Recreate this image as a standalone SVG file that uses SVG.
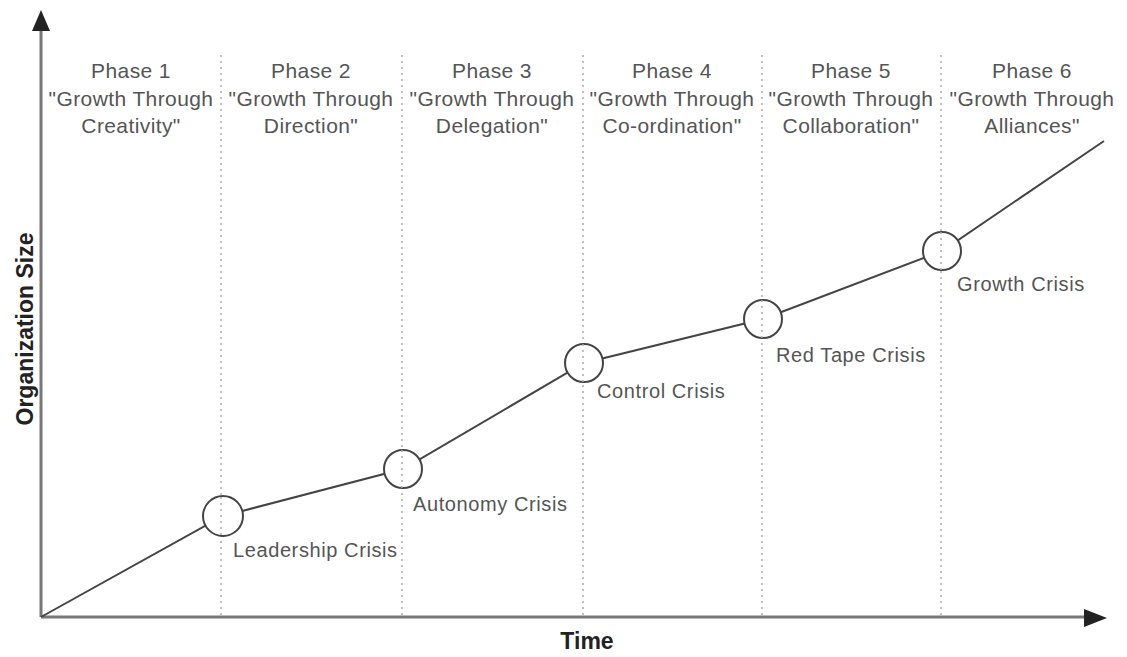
<svg xmlns="http://www.w3.org/2000/svg" width="1127" height="657" viewBox="0 0 1127 657">
<style>
.ph{font-family:"Liberation Sans",Arial,sans-serif;font-size:21px;fill:#555;text-anchor:middle;letter-spacing:0.4px}
.cr{font-family:"Liberation Sans",Arial,sans-serif;font-size:20px;fill:#555;letter-spacing:0.6px}
.ax{font-family:"Liberation Sans",Arial,sans-serif;font-size:23px;font-weight:bold;fill:#222;text-anchor:middle}
.div{stroke:#aaa;stroke-width:1.5;stroke-dasharray:2 4;fill:none}
.node{fill:#fff;stroke:#444;stroke-width:2}
</style>
<rect width="1127" height="657" fill="#fff"/>
<g id="axes">
<line x1="41" y1="617" x2="41" y2="30" stroke="#777" stroke-width="3"/>
<path d="M41,10 L32,31 L50,31 z" fill="#222"/>
<line x1="41" y1="617" x2="1085" y2="617" stroke="#777" stroke-width="3"/>
<path d="M1107,618 L1084,609 L1084,627 z" fill="#222"/>
<text class="ax" x="587" y="649">Time</text>
<text class="ax" transform="translate(33,329) rotate(-90)">Organization Size</text>
</g>
<g id="connectors">
<polyline points="41,617 223,516 403,469 584,363 763,319 942,251 1104,141" fill="none" stroke="#444" stroke-width="2"/>
</g>
<g id="phase-dividers">
<line class="div" x1="221" y1="55" x2="221" y2="617"/>
<line class="div" x1="402" y1="55" x2="402" y2="617"/>
<line class="div" x1="583" y1="55" x2="583" y2="617"/>
<line class="div" x1="762" y1="55" x2="762" y2="617"/>
<line class="div" x1="941" y1="55" x2="941" y2="617"/>
</g>
<g id="phase1"><text class="ph" x="131" y="78">Phase 1</text><text class="ph" x="131" y="106">"Growth Through</text><text class="ph" x="131" y="133">Creativity"</text></g>
<g id="phase2"><text class="ph" x="311" y="78">Phase 2</text><text class="ph" x="311" y="106">"Growth Through</text><text class="ph" x="311" y="133">Direction"</text></g>
<g id="phase3"><text class="ph" x="492" y="78">Phase 3</text><text class="ph" x="492" y="106">"Growth Through</text><text class="ph" x="492" y="133">Delegation"</text></g>
<g id="phase4"><text class="ph" x="672" y="78">Phase 4</text><text class="ph" x="672" y="106">"Growth Through</text><text class="ph" x="672" y="133">Co-ordination"</text></g>
<g id="phase5"><text class="ph" x="851" y="78">Phase 5</text><text class="ph" x="851" y="106">"Growth Through</text><text class="ph" x="851" y="133">Collaboration"</text></g>
<g id="phase6"><text class="ph" x="1032" y="78">Phase 6</text><text class="ph" x="1032" y="106">"Growth Through</text><text class="ph" x="1032" y="133">Alliances"</text></g>
<g id="crisis1"><circle class="node" cx="223" cy="516" r="20"/><text class="cr" x="233" y="557">Leadership Crisis</text></g>
<g id="crisis2"><circle class="node" cx="403" cy="469" r="19"/><text class="cr" x="413" y="511">Autonomy Crisis</text></g>
<g id="crisis3"><circle class="node" cx="584" cy="363" r="19"/><text class="cr" x="597" y="398">Control Crisis</text></g>
<g id="crisis4"><circle class="node" cx="763" cy="319" r="19"/><text class="cr" x="776" y="362">Red Tape Crisis</text></g>
<g id="crisis5"><circle class="node" cx="942" cy="251" r="19"/><text class="cr" x="957" y="291">Growth Crisis</text></g>
<g id="dividers-over">
<line class="div" x1="221" y1="497" x2="221" y2="536"/>
<line class="div" x1="402" y1="450" x2="402" y2="488"/>
<line class="div" x1="583" y1="344" x2="583" y2="382"/>
<line class="div" x1="762" y1="300" x2="762" y2="338"/>
<line class="div" x1="941" y1="232" x2="941" y2="270"/>
</g>
</svg>
